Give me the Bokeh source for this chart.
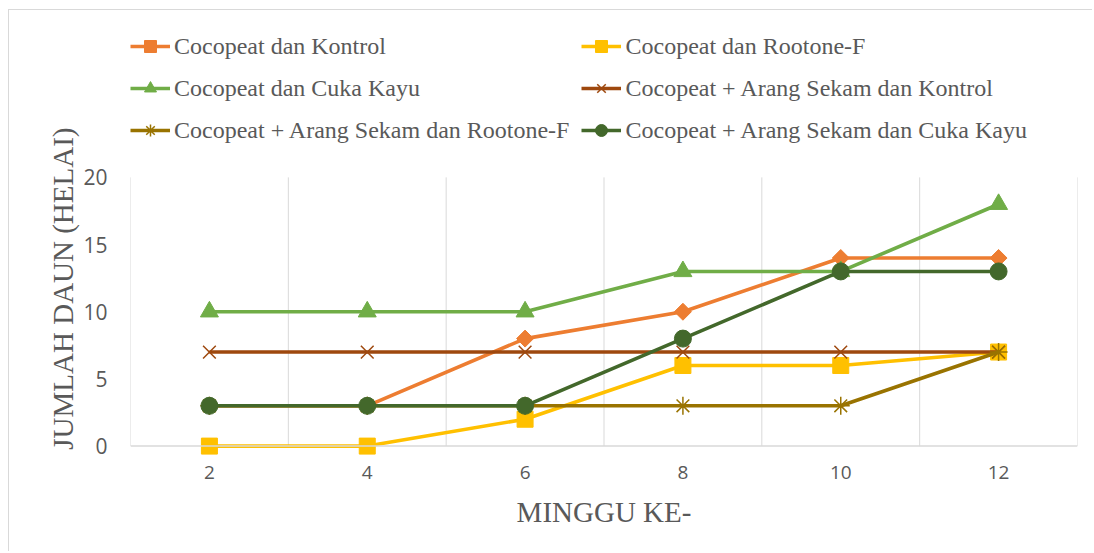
import math
from bokeh.plotting import figure
from bokeh.models import Range1d, FixedTicker, Legend, LegendItem, Span, Title
from bokeh.embed import file_html
from bokeh.resources import INLINE

# ---- data ----
minggu = [2, 4, 6, 8, 10, 12]
y_ticks = [0, 5, 10, 15, 20]
names = [
    "Cocopeat dan Kontrol",
    "Cocopeat dan Rootone-F",
    "Cocopeat dan Cuka Kayu",
    "Cocopeat + Arang Sekam dan Kontrol",
    "Cocopeat + Arang Sekam dan Rootone-F",
    "Cocopeat + Arang Sekam dan Cuka Kayu",
]
kontrol = [3, 3, 8, 10, 14, 14]
rootone = [0, 0, 2, 6, 6, 7]
cuka = [10, 10, 10, 13, 13, 18]
as_kontrol = [7, 7, 7, 7, 7, 7]
as_rootone = [3, 3, 3, 3, 3, 7]
as_cuka = [3, 3, 3, 8, 13, 13]
values = [kontrol, rootone, cuka, as_kontrol, as_rootone, as_cuka]

colors = ["#ED7D31", "#FFC000", "#70AD47", "#9E480E", "#997300", "#43682B"]
markers = ["square", "square", "triangle", "x", "asterisk", "circle"]
msizes = [12, 16, 18, 18, 18, 17]
angles = [math.pi / 4, 0, 0, 0, 0, 0]
mlw = [1, 1, 1, 1.5, 1.5, 1]

grey = "#595959"
grid = "#D9D9D9"

# frame extends up to the top so that the legend sits inside it
p = figure(width=1084, height=542, output_backend="svg", toolbar_location=None,
           x_range=Range1d(1, 13), y_range=Range1d(-0.7, 32.42),
           min_border_left=121, min_border_right=16, min_border_top=0,
           min_border_bottom=97)
p.styles = {"margin-left": "8px", "margin-top": "9px",
            "border-left": "1px solid #D9D9D9", "border-top": "1px solid #D9D9D9"}
p.outline_line_color = None
p.xgrid.grid_line_color = None
p.ygrid.grid_line_color = None

# category boundaries (gridlines) between 0 and the top tick
bounds = [m - 1 for m in minggu] + [minggu[-1] + 1]
p.segment(x0=bounds, y0=[y_ticks[0]] * len(bounds), x1=bounds,
          y1=[y_ticks[-1]] * len(bounds), line_color=grid, line_width=1)
p.add_layout(Span(location=y_ticks[0], dimension="width", line_color=grid, line_width=1.5))

items = []
for name, vals, c, mk, ms, ang, lw in zip(names, values, colors, markers, msizes, angles, mlw):
    lr = p.line(minggu, vals, line_color=c, line_width=3.6)
    sr = p.scatter(minggu, vals, marker=mk, size=ms, angle=ang,
                   fill_color=c, line_color=c, line_width=lw)
    items.append(LegendItem(label=name, renderers=[lr, sr]))

legend = Legend(items=items, orientation="horizontal", ncols=2, location=(0, 310),
                glyph_width=40, glyph_height=30, label_height=30, spacing=12,
                label_standoff=4, padding=0, margin=0,
                label_text_font="Liberation Serif", label_text_font_size="24px",
                label_text_color=grey, border_line_alpha=0, background_fill_alpha=0)
p.add_layout(legend)

# axes
p.xaxis.ticker = FixedTicker(ticks=minggu)
p.yaxis.ticker = FixedTicker(ticks=y_ticks)
for ax in (p.xaxis[0], p.yaxis[0]):
    ax.axis_line_color = None
    ax.major_tick_line_color = None
    ax.minor_tick_line_color = None
    ax.major_tick_out = 0
    ax.major_tick_in = 0
    ax.major_label_text_color = grey
    ax.major_label_text_font = "Open Sans"
p.xaxis.major_label_text_font_size = "19px"
p.yaxis.major_label_text_font_size = "21px"
p.xaxis.major_label_standoff = 10
p.yaxis.major_label_standoff = 23

p.xaxis.axis_label = "MINGGU KE-"
p.xaxis.axis_label_text_font = "Liberation Serif"
p.xaxis.axis_label_text_font_style = "normal"
p.xaxis.axis_label_text_font_size = "29px"
p.xaxis.axis_label_text_color = grey
p.xaxis.axis_label_standoff = 14

ytitle = Title(text="JUMLAH DAUN (HELAI)", align="right", offset=117,
               vertical_align="bottom", standoff=4,
               text_font="Liberation Serif", text_font_style="normal",
               text_font_size="29px", text_color=grey)
p.add_layout(ytitle, "left")

open("out.html", "w").write(file_html(p, INLINE))
